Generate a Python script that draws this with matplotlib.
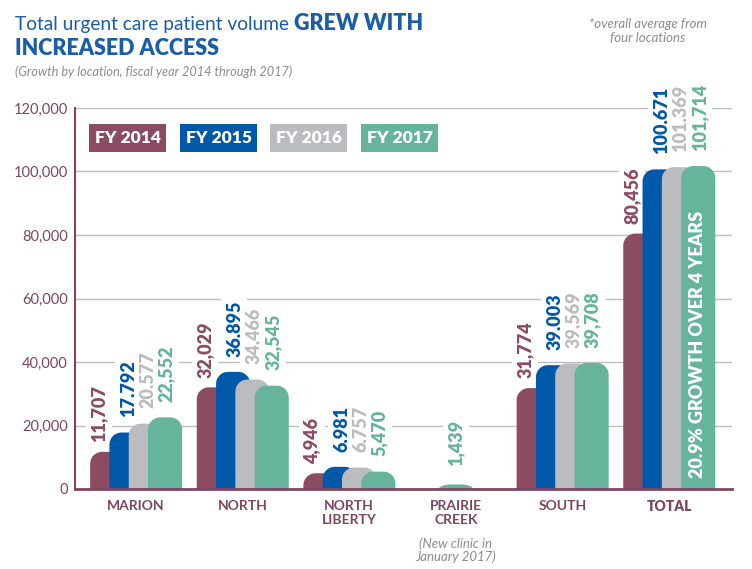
import numpy as np
import matplotlib
matplotlib.use("Agg")
import matplotlib.pyplot as plt
from matplotlib.path import Path
from matplotlib.patches import PathPatch, Rectangle

plt.rcParams["font.family"] = ["Lato", "DejaVu Sans"]

# Data
locations = ["MARION", "NORTH", "NORTH\nLIBERTY", "PRAIRIE\nCREEK", "SOUTH", "TOTAL"]
years = ["FY 2014", "FY 2015", "FY 2016", "FY 2017"]
fy2014 = [11707, 32029, 4946, np.nan, 31774, 80456]
fy2015 = [17792, 36895, 6981, np.nan, 39003, 100671]
fy2016 = [20577, 34466, 6757, np.nan, 39569, 101369]
fy2017 = [22552, 32545, 5470, 1439, 39708, 101714]
yticks = [0, 20000, 40000, 60000, 80000, 100000, 120000]

# Styles
colors = ["#8B4C63", "#0058A8", "#BBBCBF", "#66B49B"]
maroon = "#7E4660"
title_blue = "#1A5DA8"
note_grey = "#8C8C8C"
bar_w = 0.32
step = 0.181
label_dx = [0.08, 0.17, 0.17, 0.17]
label_gap = [7, 11, 11, 11]
radius_px = 12

W, H, DPI = 7.52, 5.69, 100
fig = plt.figure(figsize=(W, H), dpi=DPI)
ax = fig.add_axes([75 / 752, 80 / 569, 657 / 752, 381 / 569])
xlim = (-0.572, 5.59)
ylim = (0, 120000)
ax.set_xlim(*xlim)
ax.set_ylim(*ylim)

px_x = W * DPI * ax.get_position().width / (xlim[1] - xlim[0])
px_y = H * DPI * ax.get_position().height / (ylim[1] - ylim[0])


def rounded_bar(x0, w, h, color):
    rx = min(radius_px / px_x, w / 2)
    ry = min(radius_px / px_y, h)
    k = 0.5523
    verts = [(x0, 0), (x0, h - ry),
             (x0, h - ry + k * ry), (x0 + rx - k * rx, h), (x0 + rx, h),
             (x0 + w - rx, h),
             (x0 + w - rx + k * rx, h), (x0 + w, h - ry + k * ry), (x0 + w, h - ry),
             (x0 + w, 0), (x0, 0)]
    codes = [Path.MOVETO, Path.LINETO,
             Path.CURVE4, Path.CURVE4, Path.CURVE4,
             Path.LINETO,
             Path.CURVE4, Path.CURVE4, Path.CURVE4,
             Path.LINETO, Path.CLOSEPOLY]
    ax.add_patch(PathPatch(Path(verts, codes), facecolor=color,
                           edgecolor="none", zorder=2))


series = [fy2014, fy2015, fy2016, fy2017]
for g in range(len(locations)):
    present = [i for i in range(4) if not np.isnan(series[i][g])]
    for j, i in enumerate(present):
        v = series[i][g]
        if len(present) == 1:
            left = g - bar_w / 2
            lx = g
        else:
            left = g - 0.43 + i * step
            lx = left + label_dx[i]
        rounded_bar(left, bar_w, v, colors[i])
        ax.annotate(f"{int(v):,}", xy=(lx, v), xytext=(0, label_gap[i] if len(present) > 1 else 13),
                    textcoords="offset points", rotation=90, ha="center", va="bottom",
                    fontsize=13, fontweight="heavy", color=colors[i], zorder=1.5,
                    bbox=dict(boxstyle="square,pad=0.25", fc="white", ec="none"))

# growth note inside total bar
ax.text(5 + 0.27, 3500, "20.9% GROWTH OVER 4 YEARS", rotation=90, ha="center", va="bottom",
        color="white", fontsize=13, fontweight="heavy", zorder=5)

# axes styling
ax.set_yticks(yticks)
ax.set_yticklabels([f"{t:,}" for t in yticks], color=maroon, fontsize=10.5)
ax.tick_params(axis="y", length=0, pad=5)
ax.grid(axis="y", color="#BDBDBD", linewidth=1)
ax.set_axisbelow(True)
for s in ["top", "right"]:
    ax.spines[s].set_visible(False)
ax.spines["left"].set_color(maroon)
ax.spines["left"].set_linewidth(1.5)
ax.spines["bottom"].set_color(maroon)
ax.spines["bottom"].set_linewidth(2)

ax.set_xticks(range(len(locations)))
ax.set_xticklabels(locations, color=maroon, fontsize=10, linespacing=1.15)
ax.tick_params(axis="x", length=0, pad=8)
for lbl in ax.get_xticklabels():
    lbl.set_fontweight("heavy" if lbl.get_text() == "TOTAL" else "bold")
ax.text(3, -0.127, "(New clinic in\nJanuary 2017)", transform=ax.get_xaxis_transform(),
        ha="center", va="top", fontsize=9.5, style="italic", color=note_grey, linespacing=1.05)

# legend boxes
leg_x = [89, 180, 270, 361]
for i, name in enumerate(years):
    x0 = leg_x[i] / 752
    fig.patches.append(Rectangle((x0, (569 - 152) / 569), 77 / 752, 28 / 569,
                                 transform=fig.transFigure, facecolor=colors[i],
                                 edgecolor="none", zorder=3))
    fig.text(x0 + 38.5 / 752, (569 - 138) / 569, name, ha="center", va="center",
             color="white", fontsize=12.5, fontweight="heavy", zorder=4)

# title
t1 = fig.text(15 / 752, 1 - 30 / 569, "Total urgent care patient volume ", fontsize=13.8,
              color=title_blue, fontweight="normal", va="baseline")
fig.canvas.draw()
x1 = t1.get_window_extent().x1
fig.text(x1 / (W * DPI), 1 - 30 / 569, "GREW WITH", fontsize=15.5, color=title_blue,
         fontweight="heavy", va="baseline")
fig.text(15 / 752, 1 - 55 / 569, "INCREASED ACCESS", fontsize=15.5, color=title_blue,
         fontweight="heavy", va="baseline")
fig.text(15 / 752, 1 - 76 / 569, "(Growth by location, fiscal year 2014 through 2017)",
         fontsize=9.2, color=note_grey, style="italic", va="baseline")
fig.text(648 / 752, 1 - 42 / 569, "*overall average from\nfour locations", fontsize=9.5,
         color=note_grey, style="italic", ha="center", va="baseline", linespacing=1.2)

fig.savefig("out.png", dpi=DPI)
